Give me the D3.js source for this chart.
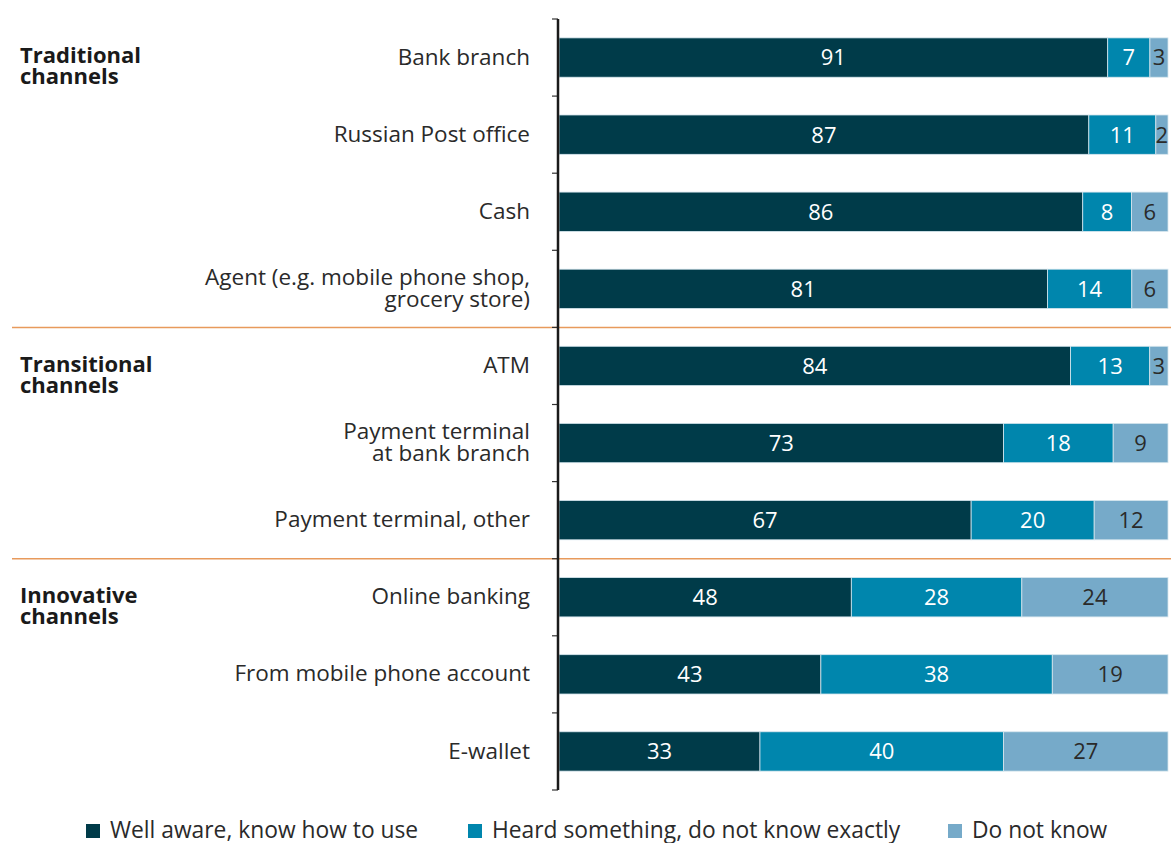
<!DOCTYPE html>
<html>
	<head>
		<meta charset="utf-8">
		<title>Payment channel awareness</title>
		<script src="https://d3js.org/d3.v7.min.js"></script>
		<style>
			html, body
			{
				margin: 0;
				background: #fff;
				overflow: hidden;
			}

			svg text
			{
				font-family: "Open Sans", "Noto Sans", sans-serif;
			}
		</style>
	</head>
	<body>
		<svg id="chart" width="1171" height="843"></svg>

		<script>
			// rows, top to bottom
			const categories = [
				"Bank branch",
				"Russian Post office",
				"Cash",
				"Agent (e.g. mobile phone shop,\ngrocery store)",
				"ATM",
				"Payment terminal\nat bank branch",
				"Payment terminal, other",
				"Online banking",
				"From mobile phone account",
				"E-wallet"
			];

			const wellAware = [91, 87, 86, 81, 84, 73, 67, 48, 43, 33];
			const heardSomething = [7, 11, 8, 14, 13, 18, 20, 28, 38, 40];
			const doNotKnow = [3, 2, 6, 6, 3, 9, 12, 24, 19, 27];

			const seriesNames = ["Well aware, know how to use", "Heard something, do not know exactly", "Do not know"];
			const seriesColors = ["#003b49", "#0086ad", "#76aac9"];
			const labelColors = ["#ffffff", "#ffffff", "#2a2a2a"];

			// groups: title and index of first / last row
			const groupNames = ["Traditional\nchannels", "Transitional\nchannels", "Innovative\nchannels"];
			const groupStart = [0, 4, 7];
			const groupEnd = [3, 6, 9];

			const svg = d3.select("#chart");

			const axisX = 558;
			const plotTop = 19, plotBottom = 790;

			const y = d3.scaleBand()
				.domain(d3.range(categories.length))
				.range([plotTop, plotBottom])
				.paddingInner(0.49)
				.paddingOuter(0.245);

			const step = y.step();

			const x = d3.scaleLinear()
				.domain([0, 1])
				.range([axisX + 1, 1168]);

			// stacked data, normalised so every bar fills the width
			const rows = categories.map((c, i) => ({
				i: i,
				vals: [wellAware[i], heardSomething[i], doNotKnow[i]]
			}));

			const stack = d3.stack()
				.keys([0, 1, 2])
				.value((d, k) => d.vals[k] / d3.sum(d.vals));

			const layers = stack(rows);

			const bars = svg.append("g");

			layers.forEach((layer, k) => {
				const g = bars.append("g");

				g.selectAll("rect")
					.data(layer)
					.enter().append("rect")
						.attr("x", d => x(d[0]))
						.attr("y", d => y(d.data.i))
						.attr("width", d => x(d[1]) - x(d[0]))
						.attr("height", y.bandwidth())
						.attr("fill", seriesColors[k])
						.attr("stroke", "#d6e6ee")
						.attr("stroke-width", 0.8);

				g.selectAll("text")
					.data(layer)
					.enter().append("text")
						.attr("x", d => (x(d[0]) + x(d[1])) / 2)
						.attr("y", d => y(d.data.i) + y.bandwidth() / 2)
						.attr("dy", "0.36em")
						.attr("text-anchor", "middle")
						.attr("font-size", 22)
						.attr("fill", labelColors[k])
						.text(d => d.data.vals[k]);
			});

			// category labels
			const catLabels = svg.append("g")
				.selectAll("text")
				.data(categories)
				.enter().append("text")
					.attr("text-anchor", "end")
					.attr("font-size", 22.5)
					.attr("fill", "#2a2a2a")
					.attr("transform", (d, i) => `translate(530, ${y(i) + y.bandwidth() / 2})`);

			catLabels.each(function (d) {
				const lines = d.split("\n");
				const t = d3.select(this);
				lines.forEach((line, j) => {
					t.append("tspan")
						.attr("x", 0)
						.attr("y", (j - (lines.length - 1) / 2) * 22 - 1)
						.attr("dy", "0.36em")
						.text(line);
				});
			});

			// group titles
			groupNames.forEach((name, gi) => {
				const cy = y(groupStart[gi]) + y.bandwidth() / 2;
				const t = svg.append("text")
					.attr("font-size", 22)
					.attr("font-weight", "bold")
					.attr("fill", "#1a1a1a")
					.attr("transform", `translate(20, ${cy})`);
				name.split("\n").forEach((line, j) => {
					t.append("tspan")
						.attr("x", 0)
						.attr("y", j * 21 - 2)
						.attr("dy", "0.36em")
						.text(line);
				});
			});

			// group separators
			svg.append("g")
				.selectAll("line")
				.data(groupEnd.slice(0, -1))
				.enter().append("line")
					.attr("x1", 12)
					.attr("x2", 1171)
					.attr("y1", d => plotTop + (d + 1) * step)
					.attr("y2", d => plotTop + (d + 1) * step)
					.attr("stroke", "#e89a5c")
					.attr("stroke-width", 1.5);

			// vertical axis with ticks at row boundaries
			const axis = svg.append("g");

			axis.selectAll("line")
				.data(d3.range(categories.length + 1))
				.enter().append("line")
					.attr("x1", axisX - 6)
					.attr("x2", axisX)
					.attr("y1", d => plotTop + d * step)
					.attr("y2", d => plotTop + d * step)
					.attr("stroke", "#333")
					.attr("stroke-width", 1.2);

			axis.append("line")
				.attr("x1", axisX)
				.attr("x2", axisX)
				.attr("y1", plotTop)
				.attr("y2", plotBottom)
				.attr("stroke", "#1a1a1a")
				.attr("stroke-width", 2.5);

			// legend
			const legendX = [86, 468, 948];

			const legend = svg.append("g")
				.selectAll("g")
				.data(seriesNames)
				.enter().append("g")
					.attr("transform", (d, i) => `translate(${legendX[i]}, 824)`);

			legend.append("rect")
				.attr("width", 14)
				.attr("height", 14)
				.attr("fill", (d, i) => seriesColors[i]);

			legend.append("text")
				.attr("x", 24)
				.attr("y", 14)
				.attr("font-size", 22.8)
				.attr("fill", "#2a2a2a")
				.text(d => d);
		</script>
	</body>
</html>
